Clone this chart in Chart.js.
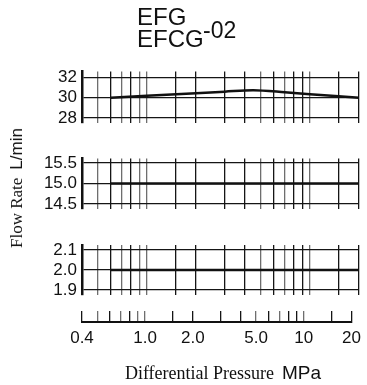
<!DOCTYPE html>
<html>
<head>
<meta charset="utf-8">
<script src="https://cdn.jsdelivr.net/npm/chart.js@4/dist/chart.umd.min.js"></script>
<style>
  body { margin: 0; background: #fff; }
  #wrap { position: relative; width: 367px; height: 385px; overflow: hidden; }
  #wrap canvas { position: absolute; left: 0; top: 0; }
  .txt { position: absolute; white-space: nowrap; color: #111; }
  .sans { font-family: "Liberation Sans", Arial, sans-serif; }
  .serif { font-family: "Liberation Serif", "Times New Roman", serif; }
</style>
</head>
<body>
<div id="wrap">
  <canvas id="top" width="367" height="385"></canvas>
  <canvas id="mid" width="367" height="385"></canvas>
  <canvas id="low" width="367" height="385"></canvas>
  <canvas id="axis" width="367" height="385"></canvas>

  <div class="txt sans" style="left:137px; top:5px; font-size:24px; line-height:24px;">EFG</div>
  <div class="txt sans" style="left:137px; top:27px; font-size:24px; line-height:24px;">EFCG</div>
  <div class="txt sans" style="left:203px; top:19px; font-size:23px; line-height:22px;">-02</div>

  <div class="txt" style="left:17px; top:188px; transform: translate(-50%, -50%) rotate(-90deg);">
    <span class="serif" style="font-size:17px;">Flow Rate</span>&nbsp;&nbsp;<span class="sans" style="font-size:17px;">L/min</span>
  </div>

  <div class="txt" style="left:223px; top:373px; transform: translate(-50%, -50%);">
    <span class="serif" style="font-size:18px;">Differential Pressure</span>&nbsp;&nbsp;<span class="sans" style="font-size:19px;">MPa</span>
  </div>
</div>

<script>
// pressure axis (MPa, log)
const xTicks = [0.4, 0.5, 0.6, 0.7, 0.8, 0.9, 1, 1.5, 2, 3, 4, 5, 6, 7, 8, 9, 10, 15, 20];
const xLabels = { 0.4: '0.4', 1: '1.0', 2: '2.0', 5: '5.0', 10: '10', 20: '20' };
const lightLines = [0.5, 0.7, 0.9, 1, 5, 7, 10];

// upper curve
const pressureTop = [0.6, 1.0, 2.0, 3.0, 4.5, 7, 10, 15, 20];
const flowTop = [30.0, 30.2, 30.45, 30.6, 30.75, 30.55, 30.35, 30.15, 30.0];
const ticksTop = [28, 30, 32];

// middle curve
const pressureMid = [0.6, 20];
const flowMid = [15.0, 15.0];
const ticksMid = [14.5, 15.0, 15.5];

// lower curve
const pressureLow = [0.6, 20];
const flowLow = [2.0, 2.0];
const ticksLow = [1.9, 2.0, 2.1];

const H = 385;
const tickFont = { family: '"Liberation Sans", Arial, sans-serif', size: 17 };

const gridColor = (ctx) => {
    if (!ctx.tick) return '#111';
    return lightLines.includes(ctx.tick.value) ? '#6e6e6e' : '#151515';
};

const xScale = (showLabels) => ({
    type: 'logarithmic',
    min: 0.4,
    max: 20,
    afterBuildTicks: (s) => { s.ticks = xTicks.map(v => ({ value: v })); },
    afterFit: (s) => { s.height = showLabels ? 30 : 0; },
    grid: { color: gridColor, lineWidth: 1.3, drawTicks: false },
    border: { display: showLabels, color: '#111', width: 2 },
    ticks: {
        display: showLabels,
        autoSkip: false,
        maxRotation: 0,
        padding: 6,
        color: '#111',
        font: tickFont,
        callback: (v) => xLabels[v] || ''
    }
});

const makePanel = (id, xs, ys, yTicks, yMin, yMax, digits, areaTop, areaBottom) => {
    const points = xs.map((x, i) => ({ x: x, y: ys[i] }));
    return new Chart(document.getElementById(id), {
        type: 'line',
        data: {
            datasets: [{
                data: points,
                borderColor: '#111',
                borderWidth: 2.5,
                pointRadius: 0,
                tension: 0.3,
                fill: false
            }]
        },
        options: {
            responsive: false,
            animation: false,
            layout: { padding: { top: areaTop, bottom: H - areaBottom, left: 0, right: 8 } },
            plugins: { legend: { display: false }, tooltip: { enabled: false } },
            scales: {
                x: xScale(false),
                y: {
                    min: yMin,
                    max: yMax,
                    afterBuildTicks: (s) => { s.ticks = yTicks.map(v => ({ value: v })); },
                    afterFit: (s) => { s.width = 82; },
                    grid: { color: '#151515', lineWidth: 1.2, drawTicks: false },
                    border: { display: true, color: '#111', width: 2.5 },
                    ticks: {
                        padding: 5,
                        color: '#111',
                        font: tickFont,
                        callback: (v) => Number(v).toFixed(digits)
                    }
                }
            }
        }
    });
};

makePanel('top', pressureTop, flowTop, ticksTop, 27.55, 32.6, 0, 71.5, 122.5);
makePanel('mid', pressureMid, flowMid, ticksMid, 14.39, 15.61, 1, 158.5, 208.5);
makePanel('low', pressureLow, flowLow, ticksLow, 1.875, 2.125, 1, 245, 295);

// bare pressure axis at the bottom
new Chart(document.getElementById('axis'), {
    type: 'line',
    data: { datasets: [{ data: [] }] },
    options: {
        responsive: false,
        animation: false,
        layout: { padding: { top: 311, bottom: H - 322 - 30, left: 82, right: 8 } },
        plugins: { legend: { display: false }, tooltip: { enabled: false } },
        scales: {
            x: xScale(true),
            y: { display: false, min: 0, max: 1 }
        }
    }
});
</script>
</body>
</html>
